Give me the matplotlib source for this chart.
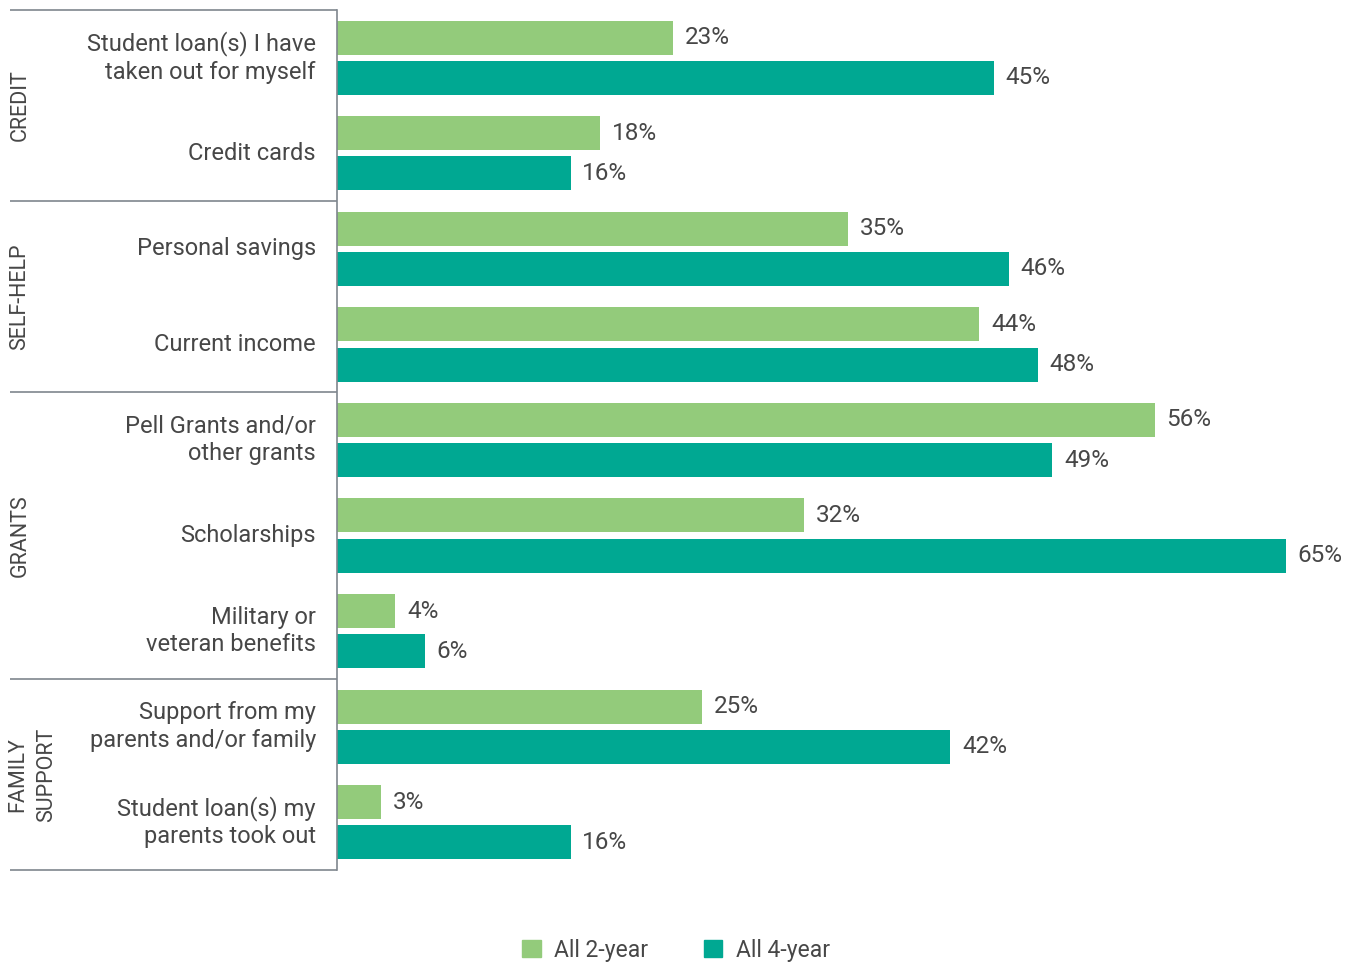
import numpy as np
import matplotlib.pyplot as plt
from matplotlib.patches import Patch

plt.rcParams['font.family'] = ['Roboto', 'DejaVu Sans']

categories = [
    "Student loan(s) I have\ntaken out for myself",
    "Credit cards",
    "Personal savings",
    "Current income",
    "Pell Grants and/or\nother grants",
    "Scholarships",
    "Military or\nveteran benefits",
    "Support from my\nparents and/or family",
    "Student loan(s) my\nparents took out",
]
two_year = [23, 18, 35, 44, 56, 32, 4, 25, 3]
four_year = [45, 16, 46, 48, 49, 65, 6, 42, 16]

# group name -> (first index, last index)
groups = [
    ("CREDIT", 0, 1),
    ("SELF-HELP", 2, 3),
    ("GRANTS", 4, 6),
    ("FAMILY\nSUPPORT", 7, 8),
]

green = '#93CB7B'
teal = '#00A892'
txt = '#474747'
rule = '#7F868E'

fig = plt.figure(figsize=(13.58, 9.65), dpi=100)
ax = fig.add_axes([337 / 1358, 1 - 870 / 965, 1003 / 1358, 860 / 965])

y = np.arange(len(categories))
h = 0.356
off = 0.21
ax.barh(y - off, two_year, height=h, color=green, label='All 2-year')
ax.barh(y + off, four_year, height=h, color=teal, label='All 4-year')

for yi, v in zip(y - off, two_year):
    ax.text(v + 0.8, yi, f"{v}%", va='center', ha='left', fontsize=17.5, color=txt)
for yi, v in zip(y + off, four_year):
    ax.text(v + 0.8, yi, f"{v}%", va='center', ha='left', fontsize=17.5, color=txt)

ax.set_xlim(0, 1003 / 14.6)
ax.set_ylim(len(categories) - 0.5, -0.5)

for s in ['top', 'right', 'bottom']:
    ax.spines[s].set_visible(False)
ax.spines['left'].set_color(rule)
ax.spines['left'].set_linewidth(1.2)
ax.set_xticks([])
ax.set_yticks([])

tr = ax.get_yaxis_transform()
for i, lab in enumerate(categories):
    ax.text(-0.021, i, lab, transform=tr, ha='right', va='center',
            fontsize=17, color=txt, linespacing=1.25)

# group separators and rotated group names
edges = [-0.5] + [g[2] + 0.5 for g in groups]
for e in edges:
    ax.plot([-0.326, 0], [e, e], transform=tr, color=rule, lw=1.2,
            clip_on=False, solid_capstyle='butt')
for name, a, b in groups:
    xpos = -0.304 if '\n' in name else -0.316
    ax.text(xpos, (a + b) / 2, name, transform=tr, rotation=90,
            ha='center', va='center', fontsize=15.5, color=txt,
            linespacing=1.5, multialignment='center')

handles = [Patch(color=green, label='All 2-year'), Patch(color=teal, label='All 4-year')]
fig.legend(handles=handles, loc='center', bbox_to_anchor=(676 / 1358, 1 - 950 / 965),
           ncol=2, frameon=False, fontsize=16.5, handlelength=0.8, handleheight=0.8,
           handletextpad=0.6, columnspacing=2.4, labelcolor=txt)

fig.savefig('out.png', dpi=100)
